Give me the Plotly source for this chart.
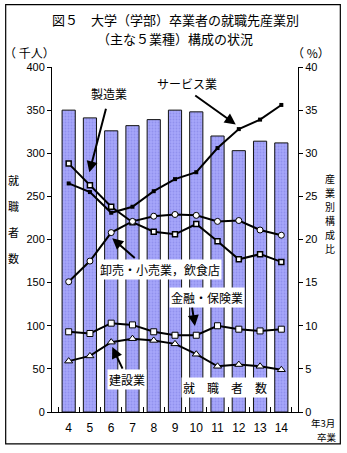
import plotly.graph_objects as go

# 卒業年（平成 年3月卒業）
years = ["4", "5", "6", "7", "8", "9", "10", "11", "12", "13", "14"]

# 就職者数（千人）
employed = [350, 341, 326, 332, 339, 350, 348, 320, 303, 314, 312]

# 産業別構成比（%）
manufacturing = [28.8, 26.3, 23.8, 22.0, 20.9, 20.6, 21.8, 19.8, 17.7, 18.3, 17.4]
services = [26.5, 25.5, 23.1, 23.8, 25.6, 27.0, 27.8, 30.6, 32.8, 33.9, 35.6]
trade = [15.1, 17.5, 20.8, 22.1, 22.7, 22.9, 22.8, 22.1, 22.2, 21.1, 20.5]
finance = [9.3, 9.1, 10.3, 10.1, 9.3, 8.9, 8.9, 10.0, 9.6, 9.4, 9.6]
construction = [5.9, 6.5, 8.1, 8.5, 8.3, 7.9, 6.7, 5.3, 5.5, 5.3, 4.9]

W, H = 347, 453
L, R, T, B = 51.5, 298.5, 66.5, 412.0
JP = "Noto Sans CJK JP"
NUM = "Liberation Sans"


def px(x):
    return (x - L) / (R - L)


def py(y):
    return (B - y) / (B - T)


fig = go.Figure()

fig.add_trace(go.Bar(
    x=years, y=employed, name="就職者数", yaxis="y",
    marker=dict(color="#9a9af6", line=dict(color="#111111", width=1),
                pattern=dict(shape=".", fgcolor="#7c7ce0", bgcolor="#a6a6fa",
                             size=3, solidity=0.3)),
    width=0.62,
))

line_style = dict(color="black", width=2)
fig.add_trace(go.Scatter(
    x=years, y=manufacturing, yaxis="y2", mode="lines+markers", name="製造業",
    line=line_style,
    marker=dict(symbol="square", size=5, color="white", line=dict(color="black", width=1.5)),
))
fig.add_trace(go.Scatter(
    x=years, y=services, yaxis="y2", mode="lines+markers", name="サービス業",
    line=line_style,
    marker=dict(symbol="square", size=4, color="black"),
))
fig.add_trace(go.Scatter(
    x=years, y=trade, yaxis="y2", mode="lines+markers", name="卸売・小売業，飲食店",
    line=line_style,
    marker=dict(symbol="circle", size=6, color="white", line=dict(color="black", width=1)),
))
fig.add_trace(go.Scatter(
    x=years, y=finance, yaxis="y2", mode="lines+markers", name="金融・保険業",
    line=line_style,
    marker=dict(symbol="square", size=6, color="white", line=dict(color="black", width=1)),
))
fig.add_trace(go.Scatter(
    x=years, y=construction, yaxis="y2", mode="lines+markers", name="建設業",
    line=line_style,
    marker=dict(symbol="triangle-up", size=7, color="white", line=dict(color="black", width=1)),
))

annotations = []


def text(x, y, s, size=12, bg=None, pad=1):
    annotations.append(dict(
        xref="paper", yref="paper", x=px(x), y=py(y), text=s, showarrow=False,
        xanchor="center", yanchor="middle",
        font=dict(family=JP, size=size, color="black"),
        bgcolor=bg, borderpad=pad,
    ))


def vertical(x, y0, step, s, size):
    # 縦書きの軸タイトル：一文字ずつ配置
    for i, ch in enumerate(s):
        text(x, y0 + i * step, ch, size=size)


def arrow(x0, y0, x1, y1):
    annotations.append(dict(
        xref="paper", yref="paper", x=px(x1), y=py(y1), text="",
        showarrow=True, ax=x0 - x1, ay=y0 - y1, axref="pixel", ayref="pixel",
        arrowhead=2, arrowsize=1.1, arrowwidth=2, arrowcolor="black",
    ))


# タイトル（2行）
text(175, 19, "図５　大学（学部）卒業者の就職先産業別", size=13, pad=0)
text(175, 38, "（主な５業種）構成の状況", size=13, pad=0)

# 軸の単位・軸タイトル
text(29, 52, "（ 千人）", size=12)
text(312, 52, "（ %）", size=12)
vertical(13, 180, 26, "就職者数", 11)
vertical(331, 178, 14, "産業別構成比", 10)
text(324, 423.5, "年3月", size=9.5, pad=0)
text(328, 437.5, "卒業", size=9.5, pad=0)

# 系列名と矢印
text(109, 93, "製造業")
arrow(106, 107, 89, 172)
text(187, 83, "サービス業")
arrow(194, 94, 236, 124)
text(160, 269, "卸売・小売業，飲食店", bg="white")
arrow(136, 259, 112, 238)
text(207, 297, "金融・保険業", bg="white")
arrow(192, 306, 195, 326)
text(127, 379, "建設業", bg="white")
arrow(123, 370, 112, 347)
text(225, 387, "就　職　者　数", bg="white")

shapes = [dict(
    type="rect", xref="paper", yref="paper",
    x0=px(5), x1=px(341), y0=py(444), y1=py(4),
    line=dict(color="black", width=1.2), fillcolor="rgba(0,0,0,0)", layer="below",
)]

fig.update_layout(
    width=W, height=H,
    margin=dict(l=L, r=W - R, t=T, b=H - B, pad=0),
    paper_bgcolor="white", plot_bgcolor="white",
    showlegend=False, bargap=0.38,
    font=dict(family=NUM, size=11, color="black"),
    xaxis=dict(
        type="category", showline=True, linecolor="black", linewidth=1,
        ticks="inside", tickson="boundaries", ticklen=5, tickcolor="black",
        showgrid=False, tickangle=0, ticklabelstandoff=5,
        tickfont=dict(family=NUM, size=12),
    ),
    yaxis=dict(
        range=[0, 400], dtick=50, showline=True, linecolor="black", linewidth=1,
        ticks="outside", ticklen=4, tickcolor="black", showgrid=False,
        zeroline=False, tickfont=dict(family=NUM, size=11),
    ),
    yaxis2=dict(
        range=[0, 40], dtick=5, overlaying="y", side="right",
        showline=True, linecolor="black", linewidth=1,
        ticks="outside", ticklen=4, tickcolor="black", showgrid=False,
        zeroline=False, tickfont=dict(family=NUM, size=11),
    ),
    annotations=annotations,
    shapes=shapes,
)

fig.write_html("out.html")
